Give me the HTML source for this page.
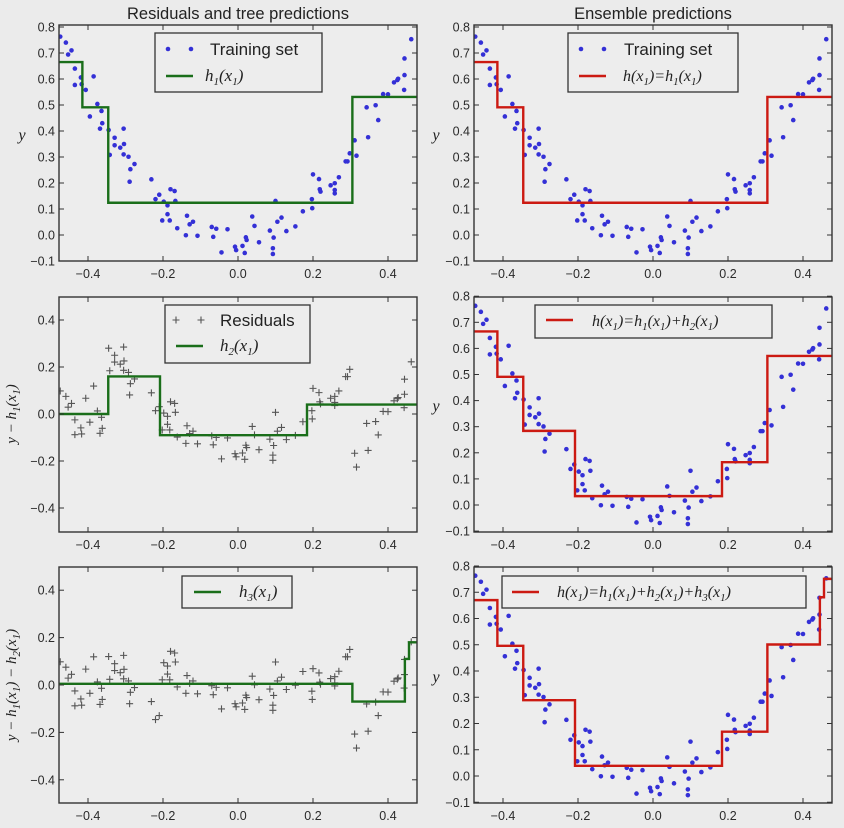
<!DOCTYPE html>
<html><head><meta charset="utf-8">
<style>
html,body{margin:0;padding:0;background:#ebebeb;}
svg{display:block;}
text{font-family:"Liberation Sans",sans-serif;}
.tick{font-size:12.5px;fill:#2a2a2a;}
.math{font-family:"Liberation Serif",serif;font-style:italic;}
</style></head>
<body>
<svg id="fig" width="844" height="828" viewBox="0 0 844 828">
<rect x="0" y="0" width="844" height="828" fill="#ebebeb"/>
</svg>
<script>
// Training data (x, y)
const xs = [-0.474,-0.459,-0.453,-0.444,-0.435,-0.435,-0.419,-0.417,-0.406,-0.385,-0.375,-0.395,-0.364,-0.368,-0.362,-0.345,-0.342,-0.329,-0.329,-0.314,-0.305,-0.305,-0.304,-0.292,-0.287,-0.289,-0.276,-0.231,-0.22,-0.21,-0.202,-0.198,-0.188,-0.188,-0.182,-0.18,-0.169,-0.167,-0.162,-0.139,-0.136,-0.129,-0.12,-0.108,-0.07,-0.066,-0.058,-0.044,-0.028,-0.008,-0.005,0.012,0.018,0.021,0.023,0.038,0.044,0.056,0.085,0.093,0.093,0.095,0.1,0.105,0.116,0.129,0.153,0.173,0.197,0.198,0.2,0.216,0.218,0.22,0.247,0.258,0.258,0.258,0.269,0.287,0.292,0.298,0.311,0.316,0.343,0.347,0.367,0.374,0.387,0.4,0.416,0.425,0.427,0.443,0.444,0.444,0.462];
const ys = [0.763,0.74,0.694,0.71,0.64,0.577,0.606,0.58,0.558,0.61,0.504,0.456,0.477,0.409,0.43,0.404,0.308,0.374,0.345,0.336,0.409,0.31,0.35,0.301,0.253,0.205,0.273,0.214,0.138,0.155,0.056,0.128,0.114,0.08,0.056,0.176,0.169,0.131,0.026,-0.001,0.074,0.041,0.051,-0.003,0.031,-0.007,0.024,-0.067,0.022,-0.045,-0.058,-0.042,-0.069,-0.009,-0.019,0.071,0.035,-0.028,0.017,-0.051,-0.073,-0.01,0.131,0.051,0.067,0.015,0.033,0.091,0.138,0.103,0.233,0.215,0.176,0.167,0.191,0.199,0.173,0.16,0.222,0.283,0.283,0.314,0.364,0.305,0.491,0.376,0.499,0.442,0.542,0.541,0.587,0.596,0.601,0.558,0.615,0.679,0.753];
// Tree 1
const h1Thresholds = [-0.415,-0.346,0.305];
const h1Values = [0.665,0.491,0.124,0.531];
// Tree 2
const h2Thresholds = [-0.346,-0.208,0.184];
const h2Values = [0.0,0.16,-0.09,0.04];
// Tree 3
const h3Thresholds = [0.305,0.445,0.456];
const h3Values = [0.005,-0.07,0.11,0.18];
const xTicks = [-0.4,-0.2,0.0,0.2,0.4];
const yTicksTop = [-0.1,0.0,0.1,0.2,0.3,0.4,0.5,0.6,0.7,0.8];
const yTicksRes = [-0.4,-0.2,0.0,0.2,0.4];

const NS='http://www.w3.org/2000/svg';
const svg=document.getElementById('fig');
function mk(tag,attrs,parent){const e=document.createElementNS(NS,tag);for(const k in attrs)e.setAttribute(k,attrs[k]);(parent||svg).appendChild(e);return e;}
function tree(th,vals,x){let i=0;while(i<th.length&&x>=th[i])i++;return vals[i];}
function fmt(v){const s=v.toFixed(1);return s.startsWith('-')?'\u2212'+s.slice(1):(s==='-0.0'?'0.0':s);}

const L=0,R=415;
function makePanel(name,ox,top,bottom,y0,ppu,yTicks){
  const g=mk('g',{});
  
  
  const left=59+ox,right=417+ox;
  const xm=v=>ox+238+375*v;
  const ym=v=>y0-v*ppu;
  const cid='clip-'+name;
  const cp=mk('clipPath',{id:cid},g);
  mk('rect',{x:left,y:top,width:right-left,height:bottom-top},cp);
  const bg=mk('rect',{x:left,y:top,width:right-left,height:bottom-top,fill:'#ededed'},g);
  
  
  const plot=mk('g',{'clip-path':'url(#'+cid+')'},g);
  xTicks.forEach(t=>{
    const x=xm(t);
    mk('line',{x1:x,x2:x,y1:bottom,y2:bottom-5,stroke:'#333','stroke-width':1},g);
    mk('line',{x1:x,x2:x,y1:top,y2:top+5,stroke:'#333','stroke-width':1},g);
    const tx=mk('text',{x:x,y:bottom+17,'text-anchor':'middle',class:'tick'},g);
    tx.textContent=fmt(t);
    
    
  });
  yTicks.forEach(t=>{
    const y=ym(t);
    mk('line',{x1:left,x2:left+5,y1:y,y2:y,stroke:'#333','stroke-width':1},g);
    mk('line',{x1:right,x2:right-5,y1:y,y2:y,stroke:'#333','stroke-width':1},g);
    const tx=mk('text',{x:left-4,y:y+4.5,'text-anchor':'end',class:'tick'},g);
    tx.textContent=fmt(t);
    
    
  });
  return {g,plot,xm,ym,left,right,top,bottom};
}
function dots(p){
  xs.forEach((x,i)=>{
    const c=mk('circle',{cx:p.xm(x),cy:p.ym(ys[i]),r:2.3,fill:'#3430d6'},p.plot);
    
    
  });
}
function crosses(p,vals){
  vals.forEach((v,i)=>{
    const cx=p.xm(xs[i]),cy=p.ym(v);
    const c=mk('path',{d:`M${cx-3.5},${cy}H${cx+3.5}M${cx},${cy-3.5}V${cy+3.5}`,stroke:'#555','stroke-width':1.1},p.plot);
    
    
  });
}
function stepLine(p,fn,color,name){
  const set=new Set([-0.55,0.55]);
  [...h1Thresholds,...h2Thresholds,...h3Thresholds].forEach(t=>set.add(t));
  const bps=[...set].sort((a,b)=>a-b);
  let d='';
  for(let i=0;i<bps.length-1;i++){
    const mid=(bps[i]+bps[i+1])/2;const v=fn(mid);
    const x1=p.xm(bps[i]),x2=p.xm(bps[i+1]),y=p.ym(v);
    d+=(i===0?'M':'L')+x1+','+y+'L'+x2+','+y;
  }
  const e=mk('path',{d:d,fill:'none',stroke:color,'stroke-width':2.4},p.plot);
  
  
}
function frame(p){
  const f=mk('rect',{x:p.left,y:p.top,width:p.right-p.left,height:p.bottom-p.top,fill:'none',stroke:'#333','stroke-width':1.4},p.g);
  
  
}
function legend(p,x,y,w,h,name){
  const lg=mk('g',{},p.g);
  
  
  mk('rect',{x:x,y:y,width:w,height:h,fill:'#ededed',stroke:'#333','stroke-width':1.3},lg);
  return lg;
}
function mathText(parent,x,y,parts,size){
  const t=mk('text',{x:x,y:y,'font-size':size||17,fill:'#222',class:'math'},parent);
  parts.forEach(pt=>{
    const s=mk('tspan',{},t);
    if(pt[1]==='sub'){s.setAttribute('font-size','11');s.setAttribute('dy','4');}
    else if(pt[1]==='up'){s.setAttribute('dy','-4');}
    s.textContent=pt[0];
  });
  return t;
}
function hx(n){return [['h'],[n,'sub'],['(','up'],['x'],['1','sub'],[')','up']];}
const GREEN='#1a6e1a',RED='#cc1a12';
const h1=x=>tree(h1Thresholds,h1Values,x);
const h2=x=>tree(h2Thresholds,h2Values,x);
const h3=x=>tree(h3Thresholds,h3Values,x);
const res1=xs.map((x,i)=>ys[i]-h1(x));
const res2=xs.map((x,i)=>ys[i]-h1(x)-h2(x));

// Row 1
const p1=makePanel('panel-residuals-1',L,25,261,235,260,yTicksTop);
dots(p1);stepLine(p1,h1,GREEN,'h1-line');frame(p1);
let lg=legend(p1,155,33,167,59,'legend-1');
[168,191].forEach(cx=>mk('circle',{cx:cx,cy:49,r:2.3,fill:'#3430d6'},lg));
let tt=mk('text',{x:210,y:55,'font-size':17,fill:'#222'},lg);tt.textContent='Training set';
mk('line',{x1:166,x2:193,y1:76,y2:76,stroke:GREEN,'stroke-width':2.4},lg);
mathText(lg,205,81,hx('1'));

const p2=makePanel('panel-ensemble-1',R,25,261,235,260,yTicksTop);
dots(p2);stepLine(p2,h1,RED,'ensemble1-line');frame(p2);
lg=legend(p2,568,33,170,59,'legend-2');
[581,604].forEach(cx=>mk('circle',{cx:cx,cy:49,r:2.3,fill:'#3430d6'},lg));
tt=mk('text',{x:624,y:55,'font-size':17,fill:'#222'},lg);tt.textContent='Training set';
mk('line',{x1:579,x2:606,y1:76,y2:76,stroke:RED,'stroke-width':2.4},lg);
mathText(lg,623,81,[['h'],['(x'],['1','sub'],[')=h','up'],['1','sub'],['(x','up'],['1','sub'],[')','up']],16);

// Row 2
const p3=makePanel('panel-residuals-2',L,297,532,414,235,yTicksRes);
crosses(p3,res1);stepLine(p3,h2,GREEN,'h2-line');frame(p3);
lg=legend(p3,165,305,145,58,'legend-3');
[176,201].forEach(cx=>mk('path',{d:`M${cx-3.5},320H${cx+3.5}M${cx},316.5V323.5`,stroke:'#555','stroke-width':1.1},lg));
tt=mk('text',{x:220,y:326,'font-size':17,fill:'#222'},lg);tt.textContent='Residuals';
mk('line',{x1:176,x2:203,y1:346,y2:346,stroke:GREEN,'stroke-width':2.4},lg);
mathText(lg,220,351,hx('2'));

const p4=makePanel('panel-ensemble-2',R,297,532,505,261,yTicksTop);
dots(p4);stepLine(p4,x=>h1(x)+h2(x),RED,'ensemble2-line');frame(p4);
lg=legend(p4,535,305,237,33,'legend-4');
mk('line',{x1:546,x2:573,y1:320,y2:320,stroke:RED,'stroke-width':2.4},lg);
mathText(lg,592,326,[['h'],['(x'],['1','sub'],[')=h','up'],['1','sub'],['(x','up'],['1','sub'],[')+h','up'],['2','sub'],['(x','up'],['1','sub'],[')','up']],16);

// Row 3
const p5=makePanel('panel-residuals-3',L,567,803,685,237,yTicksRes);
crosses(p5,res2);stepLine(p5,h3,GREEN,'h3-line');frame(p5);
lg=legend(p5,182,576,110,32,'legend-5');
mk('line',{x1:194,x2:221,y1:592,y2:592,stroke:GREEN,'stroke-width':2.4},lg);
mathText(lg,239,597,hx('3'));

const p6=makePanel('panel-ensemble-3',R,567,803,776,262.5,yTicksTop);
dots(p6);stepLine(p6,x=>h1(x)+h2(x)+h3(x),RED,'ensemble3-line');frame(p6);
lg=legend(p6,502,576,304,32,'legend-6');
mk('line',{x1:512,x2:539,y1:592,y2:592,stroke:RED,'stroke-width':2.4},lg);
mathText(lg,557,597,[['h'],['(x'],['1','sub'],[')=h','up'],['1','sub'],['(x','up'],['1','sub'],[')+h','up'],['2','sub'],['(x','up'],['1','sub'],[')+h','up'],['3','sub'],['(x','up'],['1','sub'],[')','up']],16);

// Titles & y labels
let t=mk('text',{x:238,y:19,'text-anchor':'middle','font-size':16.5,fill:'#222'});
t.textContent='Residuals and tree predictions';

t=mk('text',{x:653,y:19,'text-anchor':'middle','font-size':16.5,fill:'#222'});
t.textContent='Ensemble predictions';

[[22,140],[436,140],[436,411],[436,682]].forEach(([x,y])=>{
  const e=mk('text',{x:x,y:y,'text-anchor':'middle','font-size':16,fill:'#222',class:'math'});
  e.textContent='y';
  
});
let yl=mathText(svg,0,0,[['y − h'],['1','sub'],['(x','up'],['1','sub'],[')','up']],15);
yl.setAttribute('text-anchor','middle');yl.setAttribute('transform','translate(16,414) rotate(-90)');

yl=mathText(svg,0,0,[['y − h'],['1','sub'],['(x','up'],['1','sub'],[') − h','up'],['2','sub'],['(x','up'],['1','sub'],[')','up']],15);
yl.setAttribute('text-anchor','middle');yl.setAttribute('transform','translate(16,685) rotate(-90)');

</script>
</body></html>
